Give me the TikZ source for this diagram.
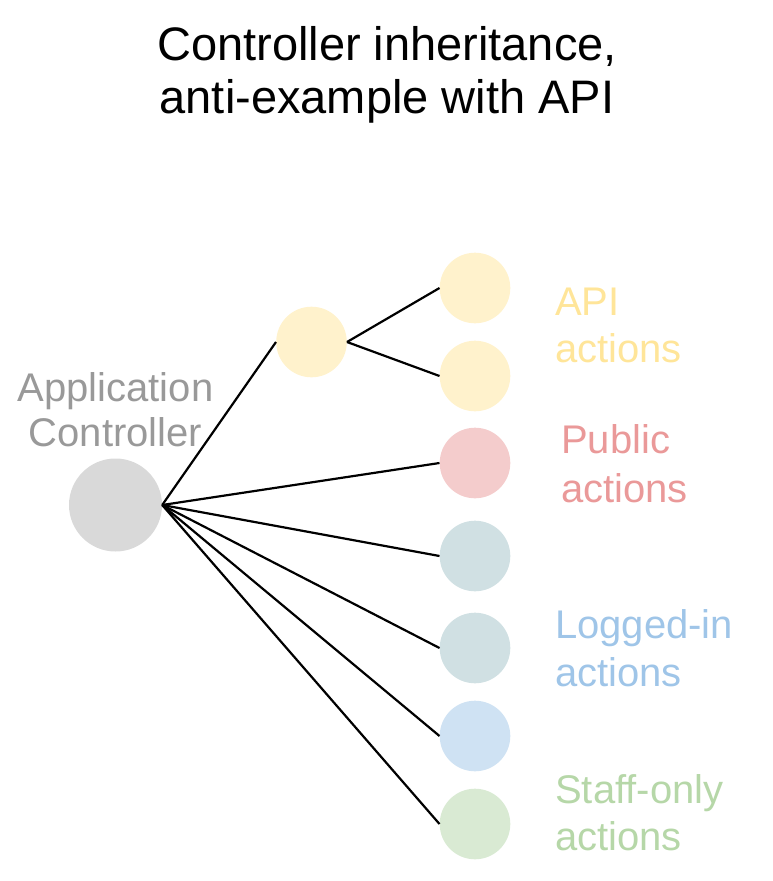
\documentclass[tikz,border=0pt]{standalone}
\usepackage{fontspec}
\setmainfont{Liberation Sans}
\definecolor{cgrey}{HTML}{D9D9D9}
\definecolor{cyel}{HTML}{FFF2CC}
\definecolor{cpink}{HTML}{F4CCCC}
\definecolor{cteal}{HTML}{D0E0E3}
\definecolor{cblue}{HTML}{CFE2F3}
\definecolor{cgreen}{HTML}{D9EAD3}
\definecolor{tgrey}{HTML}{999999}
\definecolor{tyel}{HTML}{FFE599}
\definecolor{tpink}{HTML}{EA9999}
\definecolor{tblue}{HTML}{9FC5E8}
\definecolor{tgreen}{HTML}{B6D7A8}
\tikzset{
  dot/.style={circle, inner sep=0pt, minimum size=70.6pt, draw=none},
  bigdot/.style={circle, inner sep=0pt, minimum size=93pt, draw=none, fill=cgrey},
  lbl/.style={anchor=base west, inner sep=0pt, font=\fontsize{40}{48}\selectfont},
  ttl/.style={anchor=base, inner sep=0pt, font=\fontsize{47}{53}\selectfont},
  edge/.style={line width=2.2pt, black}
}
\begin{document}
\begin{tikzpicture}[x=1pt,y=-1pt]
\useasboundingbox (0,0) rectangle (773,881);
% title
\node[ttl] (t1) at (387,60) {Controller inheritance,};
\node[ttl] (t2) at (387,113) {anti-example with API};
% circles
\node[bigdot] (app) at (115.5,505) {};
\node[dot, fill=cyel] (mid) at (311.5,342) {};
\node[dot, fill=cyel] (r1) at (475,288) {};
\node[dot, fill=cyel] (r2) at (475,376) {};
\node[dot, fill=cpink] (r3) at (475,463) {};
\node[dot, fill=cteal] (r4) at (475,556) {};
\node[dot, fill=cteal] (r5) at (475,648) {};
\node[dot, fill=cblue] (r6) at (475,736) {};
\node[dot, fill=cgreen] (r7) at (475,824) {};
% connectors
\draw[edge] (app.east) -- (mid.west);
\draw[edge] (mid.east) -- (r1.west);
\draw[edge] (mid.east) -- (r2.west);
\foreach \n in {r3,r4,r5,r6,r7} \draw[edge] (app.east) -- (\n.west);
% labels
\node[anchor=base, inner sep=0pt, font=\fontsize{40}{48}\selectfont, text=tgrey] (a1) at (115.5,401) {Application};
\node[anchor=base, inner sep=0pt, font=\fontsize{40}{48}\selectfont, text=tgrey] (a2) at (115.5,446) {Controller};
\node[lbl, text=tyel] (l1) at (555,315) {API};
\node[lbl, text=tyel] (l2) at (555,362) {actions};
\node[lbl, text=tpink] (l3) at (561,453) {Public};
\node[lbl, text=tpink] (l4) at (561,502) {actions};
\node[lbl, text=tblue] (l5) at (555,638) {Logged-in};
\node[lbl, text=tblue] (l6) at (555,686) {actions};
\node[lbl, text=tgreen] (l7) at (555,803) {Staff-only};
\node[lbl, text=tgreen] (l8) at (555,850) {actions};
\end{tikzpicture}
\end{document}
